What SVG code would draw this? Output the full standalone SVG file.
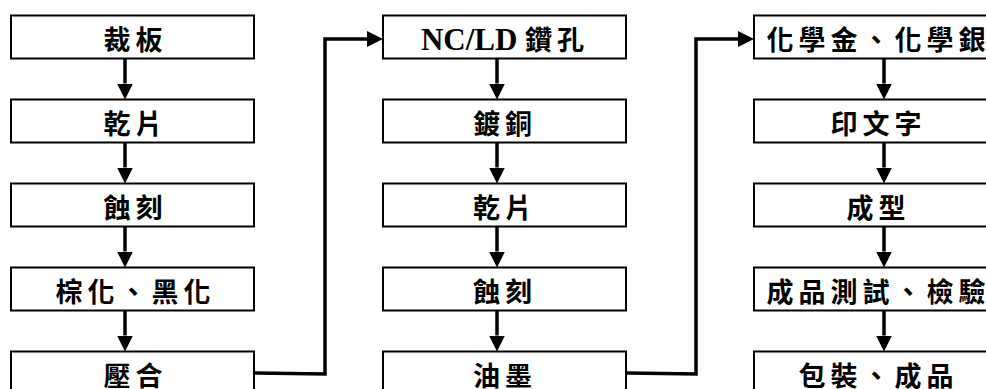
<svg xmlns="http://www.w3.org/2000/svg" width="986" height="389" viewBox="0 0 986 389">
<defs>
<style>
.box rect{fill:#fff;stroke:#000;stroke-width:2}
.box text{font-family:"Noto Sans CJK TC","Noto Sans CJK SC",sans-serif;font-size:27px;font-weight:700;letter-spacing:5px;text-anchor:middle;fill:#000}
.lat{font-family:"Liberation Serif",serif;font-size:31px;font-weight:700;letter-spacing:0}
.conn{fill:none;stroke:#000;stroke-width:3.5;stroke-linejoin:miter}
</style>
<marker id="ah" markerUnits="userSpaceOnUse" markerWidth="16" markerHeight="16" refX="0" refY="8" orient="auto" viewBox="0 0 16 16">
<path d="M0,0 L16,8 L0,16 z" fill="#000"/>
</marker>
</defs>
<rect width="986" height="389" fill="#fff"/>
<g id="connectors">
<line class="conn" x1="125" y1="58.5" x2="125" y2="83.5" marker-end="url(#ah)"/>
<line class="conn" x1="125" y1="142.5" x2="125" y2="167.5" marker-end="url(#ah)"/>
<line class="conn" x1="125" y1="226.5" x2="125" y2="251.5" marker-end="url(#ah)"/>
<line class="conn" x1="125" y1="310.5" x2="125" y2="335.5" marker-end="url(#ah)"/>
<line class="conn" x1="497" y1="58.5" x2="497" y2="83.5" marker-end="url(#ah)"/>
<line class="conn" x1="497" y1="142.5" x2="497" y2="167.5" marker-end="url(#ah)"/>
<line class="conn" x1="497" y1="226.5" x2="497" y2="251.5" marker-end="url(#ah)"/>
<line class="conn" x1="497" y1="310.5" x2="497" y2="335.5" marker-end="url(#ah)"/>
<line class="conn" x1="884" y1="58.5" x2="884" y2="83.5" marker-end="url(#ah)"/>
<line class="conn" x1="884" y1="142.5" x2="884" y2="167.5" marker-end="url(#ah)"/>
<line class="conn" x1="884" y1="226.5" x2="884" y2="251.5" marker-end="url(#ah)"/>
<line class="conn" x1="884" y1="310.5" x2="884" y2="335.5" marker-end="url(#ah)"/>
<polyline class="conn" points="255,373 325,374 325,39 367,39" marker-end="url(#ah)"/>
<polyline class="conn" points="627,373 696,374 696,39 738,39" marker-end="url(#ah)"/>
</g>
<g id="n1" class="box"><rect x="11" y="15.5" width="243" height="43"/><text x="135.5" y="50">裁板</text></g>
<g id="n2" class="box"><rect x="11" y="99.5" width="243" height="43"/><text x="135.5" y="134">乾片</text></g>
<g id="n3" class="box"><rect x="11" y="183.5" width="243" height="43"/><text x="135.5" y="218">蝕刻</text></g>
<g id="n4" class="box"><rect x="11" y="267.5" width="243" height="43"/><text x="135.5" y="302">棕化、黑化</text></g>
<g id="n5" class="box"><rect x="11" y="351.5" width="243" height="43"/><text x="135.5" y="386">壓合</text></g>
<g id="n6" class="box"><rect x="383" y="15.5" width="243" height="43"/><text x="505" y="50"><tspan class="lat">NC/LD </tspan><tspan>鑽孔</tspan></text></g>
<g id="n7" class="box"><rect x="383" y="99.5" width="243" height="43"/><text x="505" y="134">鍍銅</text></g>
<g id="n8" class="box"><rect x="383" y="183.5" width="243" height="43"/><text x="505" y="218">乾片</text></g>
<g id="n9" class="box"><rect x="383" y="267.5" width="243" height="43"/><text x="505" y="302">蝕刻</text></g>
<g id="n10" class="box"><rect x="383" y="351.5" width="243" height="43"/><text x="505" y="386">油墨</text></g>
<g id="n11" class="box"><rect x="754" y="15.5" width="244" height="43"/><text x="878.5" y="50">化學金、化學銀</text></g>
<g id="n12" class="box"><rect x="754" y="99.5" width="244" height="43"/><text x="878.5" y="134">印文字</text></g>
<g id="n13" class="box"><rect x="754" y="183.5" width="244" height="43"/><text x="878.5" y="218">成型</text></g>
<g id="n14" class="box"><rect x="754" y="267.5" width="244" height="43"/><text x="878.5" y="302">成品測試、檢驗</text></g>
<g id="n15" class="box"><rect x="754" y="351.5" width="244" height="43"/><text x="878.5" y="386">包裝、成品</text></g>
</svg>
